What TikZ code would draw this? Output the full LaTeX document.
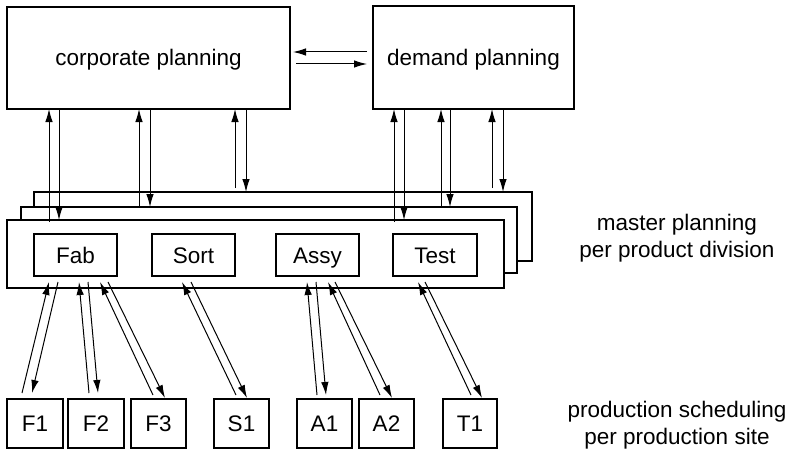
\documentclass[tikz,border=0pt]{standalone}
\usepackage{fontspec}
\setmainfont{Liberation Sans}
\usetikzlibrary{arrows.meta}
\begin{document}
\begin{tikzpicture}[x=1pt,y=-1pt,
  box/.style={draw,line width=1.5pt,fill=white,inner sep=0pt,outer sep=0pt,text height=16pt,text depth=0pt,font=\fontsize{22.5}{27}\selectfont},
  lbl/.style={align=center,font=\fontsize{22.5}{27}\selectfont},
  arr/.style={line width=1pt,-{Latex[length=13pt,width=7.5pt]}}]
\useasboundingbox (0,0) rectangle (792,452);
% top boxes
\node[box,minimum width=283pt,minimum height=102pt] (cp) at (148.5,58) {corporate planning};
\node[box,minimum width=201pt,minimum height=103pt] (dp) at (473.5,57.5) {demand planning};
% master planning stack
\node[box,minimum width=498pt,minimum height=69pt] (mp3) at (283,226.5) {};
\node[box,minimum width=496pt,minimum height=66pt] (mp2) at (269,240) {};
\node[box,minimum width=497pt,minimum height=68pt] (mp1) at (255.5,254) {};
% inner boxes
\node[box,minimum width=83pt,minimum height=42pt] (fab) at (75.5,255) {Fab};
\node[box,minimum width=83pt,minimum height=42pt] (sort) at (193.5,255) {Sort};
\node[box,minimum width=83pt,minimum height=42pt] (assy) at (317.5,255) {Assy};
\node[box,minimum width=84pt,minimum height=42pt] (test) at (435,255) {Test};
% bottom boxes
\node[box,minimum width=56pt,minimum height=49pt] (f1) at (35,423.5) {F1};
\node[box,minimum width=56pt,minimum height=49pt] (f2) at (96,423.5) {F2};
\node[box,minimum width=55pt,minimum height=49pt] (f3) at (158.5,423.5) {F3};
\node[box,minimum width=55pt,minimum height=49pt] (s1) at (241.5,423.5) {S1};
\node[box,minimum width=55pt,minimum height=49pt] (a1) at (324.5,423.5) {A1};
\node[box,minimum width=55pt,minimum height=49pt] (a2) at (386.5,423.5) {A2};
\node[box,minimum width=54pt,minimum height=49pt] (t1) at (470,423.5) {T1};
% labels
\node[lbl] (lmp) at (677,238.5) {master planning\\per product division};
\node[lbl] (lps) at (677,425) {production scheduling\\per production site};
% horizontal arrows
\draw[arr] ([xshift=-6pt,yshift=5.5pt]dp.west) -- ([xshift=3pt,yshift=6pt]cp.east);
\draw[arr] ([xshift=6pt,yshift=-6pt]cp.east) -- ([xshift=-6pt,yshift=-6.5pt]dp.west);
% corporate planning <-> master planning
\draw[arr] ([xshift=42pt,yshift=-2pt]mp1.north west) -- ([xshift=42pt]cp.south west);
\draw[arr] ([xshift=52pt]cp.south west) -- ([xshift=52pt]mp1.north west);
\draw[arr] ([xshift=118pt]mp2.north west) -- ([xshift=132pt]cp.south west);
\draw[arr] ([xshift=143pt]cp.south west) -- ([xshift=129pt]mp2.north west);
\draw[arr] ([xshift=201pt,yshift=4pt]mp3.north west) -- ([xshift=228pt]cp.south west);
\draw[arr] ([xshift=239pt]cp.south west) -- ([xshift=212pt]mp3.north west);
% demand planning <-> master planning
\draw[arr] ([xshift=387pt,yshift=-2pt]mp1.north west) -- ([xshift=21pt]dp.south west);
\draw[arr] ([xshift=31pt]dp.south west) -- ([xshift=397pt]mp1.north west);
\draw[arr] ([xshift=420pt]mp2.north west) -- ([xshift=68pt]dp.south west);
\draw[arr] ([xshift=77pt]dp.south west) -- ([xshift=429pt]mp2.north west);
\draw[arr] ([xshift=458pt,yshift=4pt]mp3.north west) -- ([xshift=119pt]dp.south west);
\draw[arr] ([xshift=130pt]dp.south west) -- ([xshift=469pt]mp3.north west);
% master planning <-> production sites
\draw[arr] ([xshift=15pt,yshift=6pt]f1.north west) -- ([xshift=15pt,yshift=-6pt]fab.south west);
\draw[arr] ([xshift=24pt,yshift=-6pt]fab.south west) -- ([xshift=25pt,yshift=6pt]f1.north west);
\draw[arr] ([xshift=21pt,yshift=6pt]f2.north west) -- ([xshift=45pt,yshift=-6pt]fab.south west);
\draw[arr] ([xshift=54pt,yshift=-6pt]fab.south west) -- ([xshift=30pt,yshift=6pt]f2.north west);
\draw[arr] ([xshift=22pt,yshift=4pt]f3.north west) -- ([xshift=66pt,yshift=-6pt]fab.south west);
\draw[arr] ([xshift=74pt,yshift=-6pt]fab.south west) -- ([xshift=34pt,yshift=1pt]f3.north west);
\draw[arr] ([xshift=22pt,yshift=4pt]s1.north west) -- ([xshift=30pt,yshift=-6pt]sort.south west);
\draw[arr] ([xshift=39pt,yshift=-6pt]sort.south west) -- ([xshift=33pt,yshift=1pt]s1.north west);
\draw[arr] ([xshift=20pt,yshift=4pt]a1.north west) -- ([xshift=31pt,yshift=-6pt]assy.south west);
\draw[arr] ([xshift=40pt,yshift=-6pt]assy.south west) -- ([xshift=29pt,yshift=4pt]a1.north west);
\draw[arr] ([xshift=21pt,yshift=4pt]a2.north west) -- ([xshift=52pt,yshift=-6pt]assy.south west);
\draw[arr] ([xshift=59pt,yshift=-6pt]assy.south west) -- ([xshift=33pt,yshift=1pt]a2.north west);
\draw[arr] ([xshift=28pt,yshift=4pt]t1.north west) -- ([xshift=25pt,yshift=-6pt]test.south west);
\draw[arr] ([xshift=32pt,yshift=-6pt]test.south west) -- ([xshift=39pt,yshift=1pt]t1.north west);
\end{tikzpicture}
\end{document}
